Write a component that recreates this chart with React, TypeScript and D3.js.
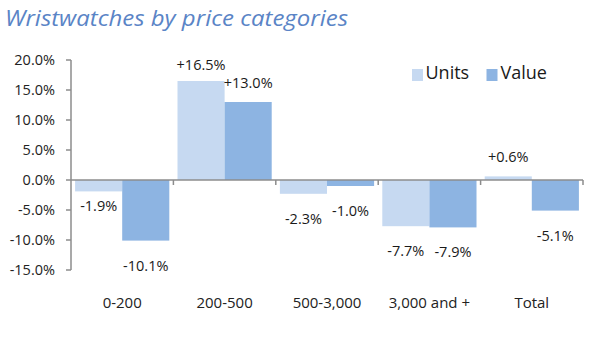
import React from "react";
import * as d3 from "d3";

const categories = ["0-200", "200-500", "500-3,000", "3,000 and +", "Total"];
const seriesNames = ["Units", "Value"];
const unitsValues = [-1.9, 16.5, -2.3, -7.7, 0.6];
const valueValues = [-10.1, 13.0, -1.0, -7.9, -5.1];
const yTicks = [20, 15, 10, 5, 0, -5, -10, -15];
const title = "Wristwatches by price categories";

const colors: Record<string, string> = { Units: "#c6d9f1", Value: "#8db4e2" };
const FONT = "'Open Sans', sans-serif";

export default function App() {
  const W = 600;
  const H = 341;
  const x = d3.scaleBand<string>().domain(categories).range([71, 583]).paddingInner(0).paddingOuter(0);
  const xi = d3.scaleBand<string>().domain(seriesNames).range([0, x.bandwidth()]).paddingInner(0).paddingOuter(0.087);
  const y = d3.scaleLinear().domain([-15, 20]).range([270, 60]);
  const f1 = d3.format(".1f");
  const plain = (v: number) => f1(v).replace("\u2212", "-");
  const fmt = (v: number) => (v > 0 ? "+" : "") + plain(v) + "%";
  const tickFmt = (v: number) => plain(v) + "%";

  const bars: { cat: string; s: string; v: number }[] = [];
  categories.forEach((c, i) => {
    bars.push({ cat: c, s: "Units", v: unitsValues[i] });
    bars.push({ cat: c, s: "Value", v: valueValues[i] });
  });

  // label offsets from bar end (rendering only)
  const labelDy = (b: { cat: string; s: string; v: number }) => {
    if (b.v >= 0) {
      if (b.cat === "200-500" && b.s === "Units") return -16;
      return -19;
    }
    if (b.cat === "0-200" && b.s === "Units") return 15;
    return 25;
  };

  const axisColor = "#8c8c8c";
  const boundaries = categories.map((c) => (x(c) as number) + x.bandwidth());

  return (
    <svg width={W} height={H} style={{ position: "absolute", left: 0, top: 0, background: "#fff" }}>
      <text x={5} y={26} fontFamily={FONT} fontStyle="italic" fontSize={22} fill="#5a84c6" textLength={343} lengthAdjust="spacingAndGlyphs">
        {title}
      </text>

      {bars.map((b, i) => {
        const bx = (x(b.cat) as number) + (xi(b.s) as number);
        const y0 = y(0);
        const y1 = y(b.v);
        return (
          <rect key={i} x={bx} y={Math.min(y0, y1)} width={xi.bandwidth()} height={Math.abs(y1 - y0)} fill={colors[b.s]} />
        );
      })}

      {/* y axis */}
      <line x1={71} x2={71} y1={y(20)} y2={y(-15)} stroke={axisColor} strokeWidth={1.5} />
      {yTicks.map((t) => (
        <g key={t}>
          <line x1={66} x2={71} y1={y(t)} y2={y(t)} stroke={axisColor} strokeWidth={1.5} />
          <text x={55} y={y(t) + 5} textAnchor="end" fontFamily={FONT} fontSize={14.5} fill="#222">
            {tickFmt(t)}
          </text>
        </g>
      ))}

      {/* x axis */}
      <line x1={71} x2={583} y1={y(0)} y2={y(0)} stroke={axisColor} strokeWidth={1.5} />
      {boundaries.map((bx, i) => (
        <line key={i} x1={bx} x2={bx} y1={y(0)} y2={y(0) + 5} stroke={axisColor} strokeWidth={1.5} />
      ))}
      {categories.map((c) => (
        <text key={c} x={(x(c) as number) + x.bandwidth() / 2} y={308} textAnchor="middle" fontFamily={FONT} fontSize={15} fill="#222">
          {c}
        </text>
      ))}

      {/* data labels */}
      {bars.map((b, i) => {
        const cx = (x(b.cat) as number) + (xi(b.s) as number) + xi.bandwidth() / 2;
        const cy = y(b.v) + labelDy(b);
        return (
          <text key={"l" + i} x={cx} y={cy + 5} textAnchor="middle" fontFamily={FONT} fontSize={14.5} fill="#1a1a1a">
            {fmt(b.v)}
          </text>
        );
      })}

      {/* legend */}
      <rect x={412} y={69} width={11} height={12} fill={colors.Units} />
      <text x={425.5} y={79} fontFamily={FONT} fontSize={18} fill="#1a1a1a">Units</text>
      <rect x={486.5} y={69} width={11} height={12} fill={colors.Value} />
      <text x={500.5} y={79} fontFamily={FONT} fontSize={18} fill="#1a1a1a">Value</text>
    </svg>
  );
}
